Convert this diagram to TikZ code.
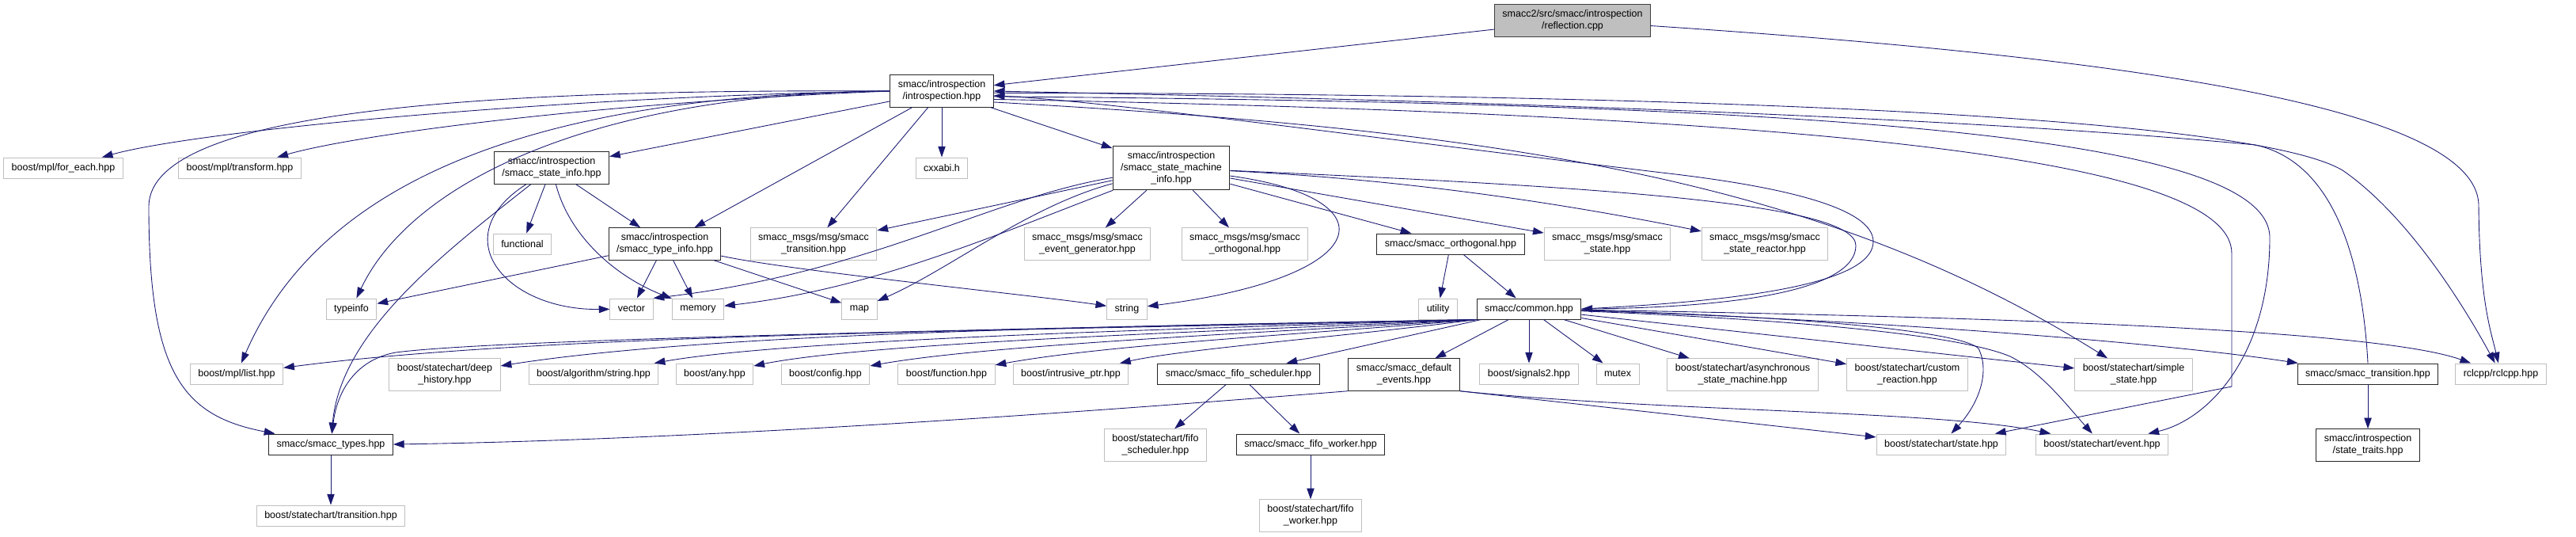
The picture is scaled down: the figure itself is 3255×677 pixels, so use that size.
\documentclass[tikz,border=0pt]{standalone}
\usepackage{fontspec}
\setmainfont{Liberation Sans}
\usetikzlibrary{arrows.meta}

\definecolor{edgeblue}{HTML}{191970}
\definecolor{boxgrey}{HTML}{BFBFBF}
\definecolor{rootline}{HTML}{404040}

\begin{document}
\begin{tikzpicture}[
    x=0.8pt, y=-0.8pt,
    every node/.style={font=\fontsize{10}{12}\selectfont, align=center, inner xsep=8pt, inner ysep=5.5pt, minimum height=20.8pt},
    docbox/.style={draw=black!85, line width=0.8pt},
    extbox/.style={draw=boxgrey, line width=0.8pt},
    rootbox/.style={draw=rootline, fill=boxgrey, line width=0.8pt},
    arr/.style={-{Triangle[length=11pt, width=7.5pt]}, color=edgeblue, line width=0.7pt}
]
\useasboundingbox (0,0) rectangle (3255,677);

\node[rootbox] (refl) at (1987,26) {smacc2/src/smacc/introspection\\/reflection.cpp};
\node[docbox] (intro) at (1190,115) {smacc/introspection\\/introspection.hpp};

\node[extbox] (foreach) at (80,212) {boost/mpl/for\_each.hpp};
\node[extbox] (transform) at (303,212) {boost/mpl/transform.hpp};
\node[docbox] (stateinfo) at (697,212) {smacc/introspection\\/smacc\_state\_info.hpp};
\node[extbox] (cxxabi) at (1190,212) {cxxabi.h};
\node[docbox] (smi) at (1480,212) {smacc/introspection\\/smacc\_state\_machine\\\_info.hpp};

\node[extbox] (functional) at (660,308) {functional};
\node[docbox] (typeinfoh) at (840,308) {smacc/introspection\\/smacc\_type\_info.hpp};
\node[extbox] (msgtrans) at (1028,308) {smacc\_msgs/msg/smacc\\\_transition.hpp};
\node[extbox] (evgen) at (1374,308) {smacc\_msgs/msg/smacc\\\_event\_generator.hpp};
\node[extbox] (msgorth) at (1573,308) {smacc\_msgs/msg/smacc\\\_orthogonal.hpp};
\node[docbox] (orth) at (1833,308) {smacc/smacc\_orthogonal.hpp};
\node[extbox] (msgstate) at (2031,308) {smacc\_msgs/msg/smacc\\\_state.hpp};
\node[extbox] (msgreactor) at (2230,308) {smacc\_msgs/msg/smacc\\\_state\_reactor.hpp};

\node[extbox] (typeinfo) at (444,390) {typeinfo};
\node[extbox] (vector) at (798,390) {vector};
\node[extbox] (memory) at (882,390) {memory};
\node[extbox] (map) at (1086,390) {map};
\node[extbox] (string) at (1424,390) {string};
\node[extbox] (utility) at (1817,390) {utility};
\node[docbox] (common) at (1932,390) {smacc/common.hpp};

\node[extbox] (mpllist) at (299,472) {boost/mpl/list.hpp};
\node[extbox] (deephist) at (562,473) {boost/statechart/deep\\\_history.hpp};
\node[extbox] (algstring) at (750,472) {boost/algorithm/string.hpp};
\node[extbox] (any) at (903,472) {boost/any.hpp};
\node[extbox] (config) at (1043,472) {boost/config.hpp};
\node[extbox] (function) at (1196,472) {boost/function.hpp};
\node[extbox] (intrusive) at (1353,472) {boost/intrusive\_ptr.hpp};
\node[docbox] (fifosched) at (1565,472) {smacc/smacc\_fifo\_scheduler.hpp};
\node[docbox] (defevents) at (1774,473) {smacc/smacc\_default\\\_events.hpp};
\node[extbox] (signals) at (1932,472) {boost/signals2.hpp};
\node[extbox] (mutex) at (2044,472) {mutex};
\node[extbox] (asyncsm) at (2202,473) {boost/statechart/asynchronous\\\_state\_machine.hpp};
\node[extbox] (customreact) at (2410,473) {boost/statechart/custom\\\_reaction.hpp};
\node[extbox] (simplestate) at (2696,473) {boost/statechart/simple\\\_state.hpp};
\node[docbox] (transition) at (2992,472) {smacc/smacc\_transition.hpp};
\node[extbox] (rclcpp) at (3160,472) {rclcpp/rclcpp.hpp};

\node[docbox] (types) at (418,561) {smacc/smacc\_types.hpp};
\node[extbox] (bfifosched) at (1460,562) {boost/statechart/fifo\\\_scheduler.hpp};
\node[docbox] (fifoworker) at (1656,561) {smacc/smacc\_fifo\_worker.hpp};
\node[extbox] (state) at (2453,561) {boost/statechart/state.hpp};
\node[extbox] (event) at (2656,561) {boost/statechart/event.hpp};
\node[docbox] (traits) at (2992,562) {smacc/introspection\\/state\_traits.hpp};

\node[extbox] (sctransition) at (418,651) {boost/statechart/transition.hpp};
\node[extbox] (bfifoworker) at (1656,651) {boost/statechart/fifo\\\_worker.hpp};

\draw[arr] (refl) -- (intro);
\draw[arr] (refl) .. controls (2650,70) and (3132,130) .. (3132,260) .. controls (3133,380) and (3148,420) .. (rclcpp);

\draw[arr] (intro.west) .. controls (700,122) and (250,165) .. (foreach);
\draw[arr] (intro.west) .. controls (750,130) and (450,170) .. (transform);
\draw[arr] (intro) -- (stateinfo);
\draw[arr] (intro) -- (typeinfoh);
\draw[arr] (intro) -- (msgtrans);
\draw[arr] (intro) -- (cxxabi);
\draw[arr] (intro) -- (smi);
\draw[arr] (intro.west) .. controls (750,118) and (520,230) .. (typeinfo);
\draw[arr] (intro.west) .. controls (650,120) and (400,240) .. (mpllist);
\draw[arr] (intro.west) .. controls (600,112) and (190,140) .. (188,260) .. controls (188,470) and (230,525) .. (types);
\draw[arr] (intro.358) .. controls (2200,118) and (2850,150) .. (2960,215) .. controls (3040,270) and (3110,380) .. (rclcpp);
\draw[arr] (intro.354) .. controls (2300,130) and (2868,170) .. (2868,300) .. controls (2868,450) and (2790,530) .. (event);
\draw[arr] (intro.351) .. controls (2300,145) and (2820,200) .. (2820,320) -- (2820,488) -- (state);
\draw[arr] (intro.348) .. controls (1900,165) and (2300,225) .. (simplestate);

\draw[arr] (common.east) .. controls (2250,378) and (2367,350) .. (2367,305) .. controls (2367,262) and (2250,235) .. (2100,218) .. controls (1700,170) and (1400,128) .. (intro.355);
\draw[arr] (transition.north) .. controls (2985,330) and (2950,205) .. (2850,183) .. controls (2400,140) and (1600,122) .. (intro.east);

\draw[arr] (stateinfo) -- (functional);
\draw[arr] (stateinfo) -- (typeinfoh);
\draw[arr] (stateinfo) .. controls (560,300) and (640,392) .. (vector);
\draw[arr] (stateinfo) .. controls (720,300) and (780,350) .. (memory);
\draw[arr] (stateinfo) .. controls (560,320) and (430,420) .. (types);

\draw[arr] (typeinfoh) -- (typeinfo);
\draw[arr] (typeinfoh) -- (vector);
\draw[arr] (typeinfoh) -- (memory);
\draw[arr] (typeinfoh) -- (map);
\draw[arr] (typeinfoh) .. controls (1000,342) and (1300,372) .. (string);

\draw[arr] (smi) -- (msgtrans);
\draw[arr] (smi) .. controls (1250,250) and (1100,345) .. (vector.north east);
\draw[arr] (smi) .. controls (1250,300) and (1100,365) .. (memory);
\draw[arr] (smi) .. controls (1300,260) and (1200,340) .. (map);
\draw[arr] (smi) .. controls (1760,250) and (1740,350) .. (string);
\draw[arr] (smi) -- (evgen);
\draw[arr] (smi) -- (msgorth);
\draw[arr] (smi) -- (orth);
\draw[arr] (smi) -- (msgstate);
\draw[arr] (smi) .. controls (1800,228) and (2000,262) .. (msgreactor);
\draw[arr] (smi) .. controls (2000,235) and (2345,255) .. (2345,310) .. controls (2345,365) and (2200,388) .. (common.east);

\draw[arr] (orth) -- (utility);
\draw[arr] (orth) -- (common);

\draw[arr] (common.south west) .. controls (1300,418) and (700,420) .. (mpllist);
\draw[arr] (common.south west) .. controls (1400,412) and (900,420) .. (deephist);
\draw[arr] (common.south west) .. controls (1500,415) and (1000,428) .. (algstring);
\draw[arr] (common.south west) .. controls (1550,418) and (1100,432) .. (any);
\draw[arr] (common.south west) .. controls (1600,420) and (1250,435) .. (config);
\draw[arr] (common.south west) .. controls (1650,422) and (1400,435) .. (function);
\draw[arr] (common.south west) .. controls (1700,425) and (1500,440) .. (intrusive);
\draw[arr] (common.south west) .. controls (1000,420) and (600,432) .. (500,445) .. controls (445,455) and (425,500) .. (types);
\draw[arr] (common) -- (fifosched);
\draw[arr] (common) -- (defevents);
\draw[arr] (common) -- (signals);
\draw[arr] (common) -- (mutex);
\draw[arr] (common) -- (asyncsm);
\draw[arr] (common) -- (customreact);
\draw[arr] (common) -- (simplestate);
\draw[arr] (common) .. controls (2400,405) and (2750,435) .. (transition);
\draw[arr] (common) .. controls (2500,400) and (3000,415) .. (rclcpp);
\draw[arr] (common) .. controls (2300,400) and (2480,420) .. (2500,440) .. controls (2515,470) and (2500,510) .. (state);
\draw[arr] (common) .. controls (2300,405) and (2480,425) .. (2540,450) .. controls (2580,470) and (2610,510) .. (event);

\draw[arr] (defevents.south west) .. controls (1400,518) and (900,555) .. (types.east);
\draw[arr] (defevents.south east) -- (state);
\draw[arr] (defevents.south east) .. controls (2100,520) and (2450,518) .. (event);

\draw[arr] (fifosched) -- (bfifosched);
\draw[arr] (fifosched) -- (fifoworker);
\draw[arr] (fifoworker) -- (bfifoworker);
\draw[arr] (types) -- (sctransition);
\draw[arr] (transition) -- (traits);
\end{tikzpicture}
\end{document}
